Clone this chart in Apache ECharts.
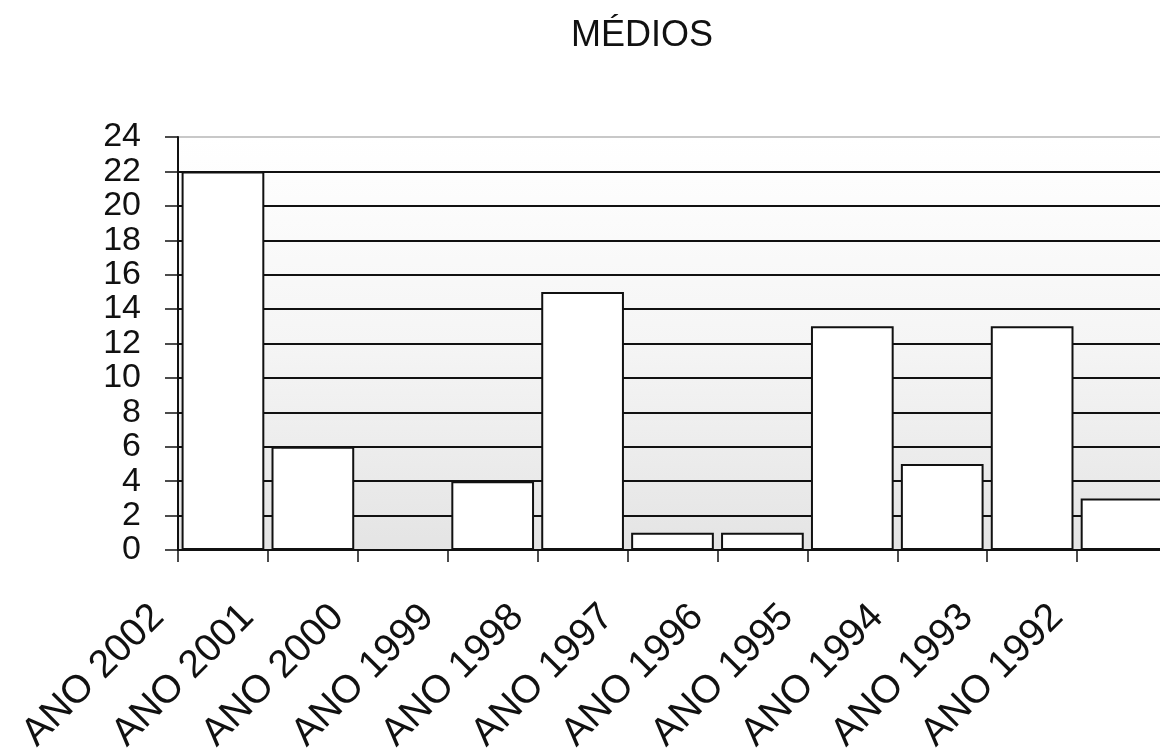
<!DOCTYPE html>
<html>
<head>
<meta charset="utf-8">
<script src="https://cdn.jsdelivr.net/npm/echarts@6/dist/echarts.min.js"></script>
<style>
  html, body { margin: 0; padding: 0; background: #fff; }
  #chart { width: 1160px; height: 752px; }
</style>
</head>
<body>
<div id="chart"></div>
<script>
const years = ['ANO 2002', 'ANO 2001', 'ANO 2000', 'ANO 1999', 'ANO 1998', 'ANO 1997',
  'ANO 1996', 'ANO 1995', 'ANO 1994', 'ANO 1993', 'ANO 1992'];
const medios = [22, 6, 0, 4, 15, 1, 1, 13, 5, 13, 3];
const yMin = 0;
const yMax = 24;
const yStep = 2;

const font = 'Liberation Sans, Arial, sans-serif';
const chart = echarts.init(document.getElementById('chart'));

// split lines black, top one (24) faint
const gridColors = [];
for (let v = yMin; v <= yMax; v += yStep) {
  gridColors.push(v === yMax ? '#c8c8c8' : '#111');
}

const option = {
  backgroundColor: '#fff',
  animation: false,
  title: {
    text: 'MÉDIOS',
    left: 637,
    textAlign: 'center',
    top: 13,
    textStyle: { fontFamily: font, fontSize: 36, fontWeight: 'normal', color: '#111' }
  },
  grid: {
    left: 178,
    top: 137,
    width: 989,
    height: 413,
    outerBoundsMode: 'none',
    show: true,
    borderWidth: 0,
    backgroundColor: new echarts.graphic.LinearGradient(0, 0, 0, 1, [
      { offset: 0, color: '#ffffff' },
      { offset: 0.5, color: '#f5f5f5' },
      { offset: 1, color: '#e4e4e4' }
    ])
  },
  xAxis: {
    type: 'category',
    data: years,
    axisLine: { lineStyle: { color: '#111', width: 2 } },
    axisTick: { show: true, length: 12, lineStyle: { color: '#111', width: 1.5 } },
    axisLabel: {
      interval: 0,
      rotate: 45,
      // right padding slides the label down-left along its baseline,
      // the small margin brings it back up to the reference height
      margin: -4,
      padding: [0, 92, 0, 0],
      fontFamily: font,
      fontSize: 39,
      color: '#111'
    },
    splitLine: { show: false }
  },
  yAxis: {
    type: 'value',
    min: yMin,
    max: yMax,
    interval: yStep,
    axisLine: { show: true, lineStyle: { color: '#111', width: 2 } },
    axisTick: { show: true, length: 13, lineStyle: { color: '#111', width: 1.5 } },
    axisLabel: {
      margin: 37,
      showMinLabel: true,
      showMaxLabel: true,
      fontFamily: font,
      fontSize: 34,
      color: '#111'
    },
    splitLine: { show: true, lineStyle: { color: gridColors, width: 2 } }
  },
  series: [
    {
      name: 'MÉDIOS',
      type: 'bar',
      data: medios,
      barCategoryGap: '8%',
      itemStyle: { color: '#fff', borderColor: '#111', borderWidth: 2 }
    }
  ]
};

chart.setOption(option);
</script>
</body>
</html>
